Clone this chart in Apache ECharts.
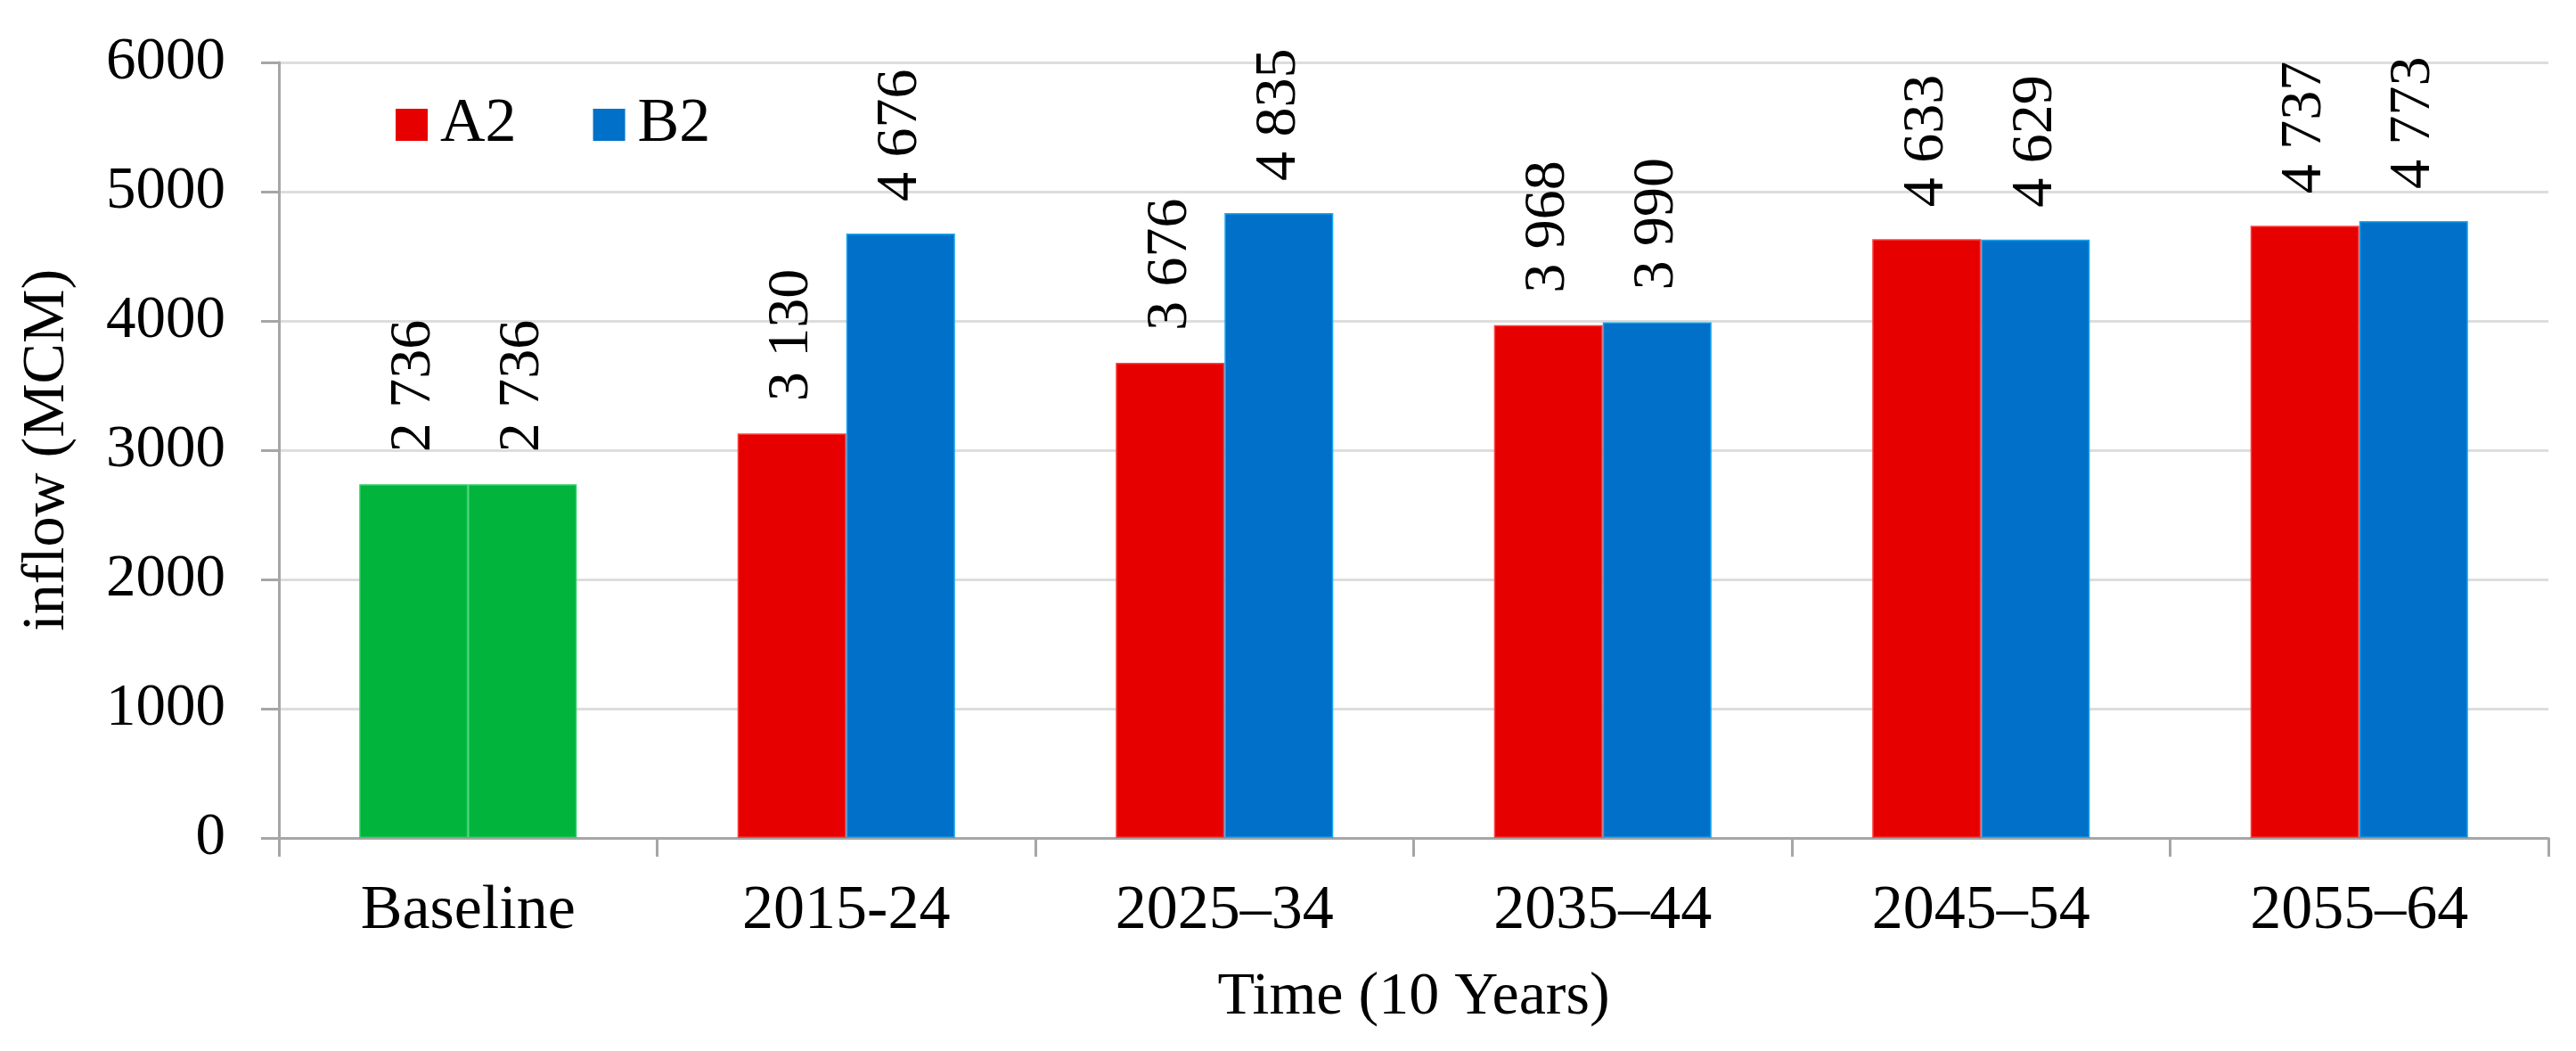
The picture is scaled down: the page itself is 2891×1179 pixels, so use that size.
<!DOCTYPE html>
<html>
<head>
<meta charset="utf-8">
<script src="https://cdn.jsdelivr.net/npm/echarts@6/dist/echarts.min.js"></script>
<style>html,body{margin:0;padding:0;background:#fff;}#c{width:2891px;height:1179px;}</style>
</head>
<body>
<div id="c"></div>
<script>
const categories = ['Baseline', '2015-24', '2025–34', '2035–44', '2045–54', '2055–64'];
const seriesNames = ['A2', 'B2'];
const a2Values = [2736, 3130, 3676, 3968, 4633, 4737];
const b2Values = [2736, 4676, 4835, 3990, 4629, 4773];
const yTicks = [0, 1000, 2000, 3000, 4000, 5000, 6000];

const FONT = 'Liberation Serif';
const RED = '#E60000', BLUE = '#0070C8', GREEN = '#00B43C';

function fmt(v) {
  const s = String(v);
  return s.length > 3 ? s.slice(0, s.length - 3) + ' ' + s.slice(s.length - 3) : s;
}

function makeLabel() {
  return {
    show: true, position: 'top', distance: 36, rotate: 90, align: 'left', verticalAlign: 'middle',
    fontFamily: FONT, fontSize: 66, color: '#000', fontWeight: 'normal',
    formatter: p => fmt(p.value)
  };
}

function buildData(values, color, border) {
  return values.map((v, i) => ({
    value: v,
    itemStyle: i === 0
      ? { color: GREEN, borderColor: '#2FD06A', borderWidth: 1.5 }
      : { color: color, borderColor: border, borderWidth: 1.5 },
    label: makeLabel()
  }));
}

const chart = echarts.init(document.getElementById('c'), null, { renderer: 'canvas' });
chart.setOption({
  animation: false,
  backgroundColor: '#fff',
  textStyle: { fontFamily: FONT },
  grid: { left: 313, right: 31, top: 70, bottom: 239, containLabel: false },
  legend: {
    data: seriesNames, left: 439, top: 100, itemWidth: 36, itemHeight: 36, itemGap: 86,
    icon: 'rect',
    textStyle: { fontFamily: FONT, fontSize: 70, color: '#000', padding: [0, 0, 0, 9] }
  },
  xAxis: {
    type: 'category', data: categories,
    name: 'Time (10 Years)', nameLocation: 'middle', nameGap: 145,
    nameTextStyle: { fontFamily: FONT, fontSize: 68, color: '#000' },
    axisLine: { lineStyle: { color: '#A6A6A6', width: 3 } },
    axisTick: { show: true, length: 21, lineStyle: { color: '#A6A6A6', width: 3 } },
    axisLabel: { fontFamily: FONT, fontSize: 70, color: '#000', margin: 48 }
  },
  yAxis: {
    type: 'value', min: 0, max: 6000, interval: 1000,
    name: 'inflow (MCM)', nameLocation: 'middle', nameGap: 226,
    nameTextStyle: { fontFamily: FONT, fontSize: 68, color: '#000' },
    axisLine: { show: true, lineStyle: { color: '#A6A6A6', width: 3 } },
    axisTick: { show: true, length: 20, lineStyle: { color: '#A6A6A6', width: 3 } },
    axisLabel: { fontFamily: FONT, fontSize: 67, color: '#000', margin: 60,
      formatter: v => yTicks.indexOf(v) >= 0 ? String(v) : '' },
    splitLine: { lineStyle: { color: '#DDDDDD', width: 3 } }
  },
  series: [
    { name: seriesNames[0], type: 'bar', color: RED, barGap: '0%', barCategoryGap: '42.5%',
      data: buildData(a2Values, RED, '#FF4040'), label: makeLabel() },
    { name: seriesNames[1], type: 'bar', color: BLUE, barGap: '0%', barCategoryGap: '42.5%',
      data: buildData(b2Values, BLUE, '#1AA8F0'), label: makeLabel() }
  ]
});
</script>
</body>
</html>
